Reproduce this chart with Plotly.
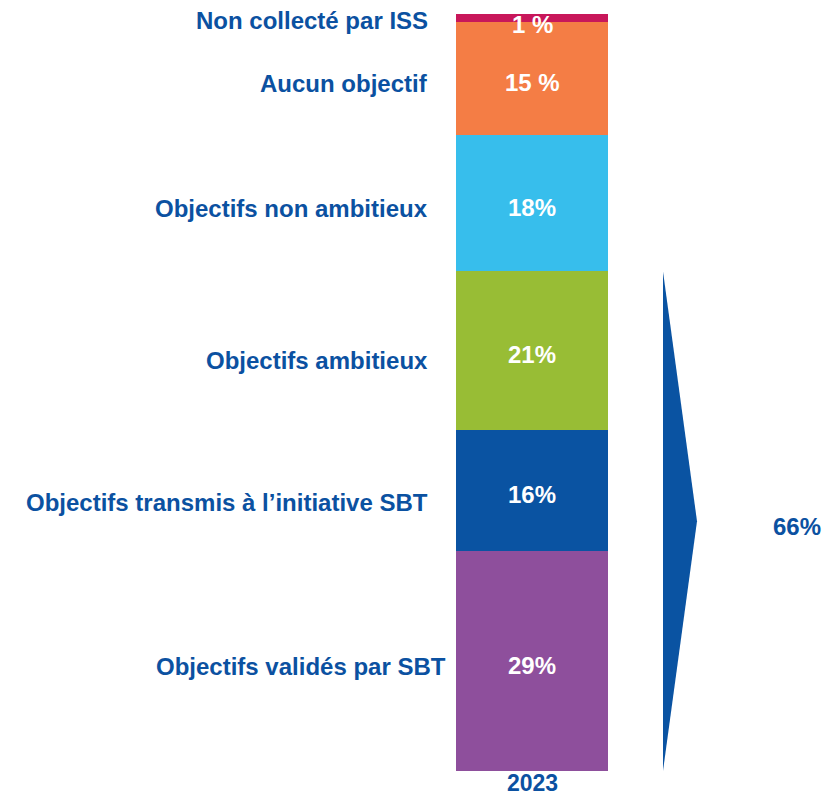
import plotly.graph_objects as go

categories = ["Objectifs validés par SBT", "Objectifs transmis à l’initiative SBT",
              "Objectifs ambitieux", "Objectifs non ambitieux", "Aucun objectif",
              "Non collecté par ISS"]
values = [29, 16, 21, 18, 15, 1]
value_labels = ["29%", "16%", "21%", "18%", "15 %", "1 %"]
colors = ["#8E4F9C", "#0A53A2", "#98BD35", "#37BEEC", "#F47D45", "#C8175A"]
year = "2023"
group_total_label = "66%"
group_size = 3  # bottom three segments

BLUE = "#0B51A1"
FONT = "Liberation Sans, Arial, sans-serif"
FS = 24
BAR_X = 532
BAR_W = 152

fig = go.Figure()
for cat, v, c in zip(categories, values, colors):
    fig.add_trace(go.Bar(x=[BAR_X], y=[v], width=BAR_W, name=cat,
                         marker=dict(color=c, line=dict(width=0)),
                         hoverinfo="name+y"))

label_x = {categories[0]: 448}
label_shift = {categories[2]: -10, categories[1]: -12, categories[5]: -3}
value_shift = {categories[5]: -7}
annotations = []
cum = 0
for cat, v, lab in zip(categories, values, value_labels):
    mid = cum + v / 2
    cum += v
    annotations.append(dict(x=label_x.get(cat, 430), y=mid, text=f"<b>{cat}</b>",
                            xanchor="right", yanchor="middle", showarrow=False,
                            yshift=label_shift.get(cat, -5),
                            font=dict(family=FONT, size=FS, color=BLUE)))
    annotations.append(dict(x=BAR_X, y=mid, text=f"<b>{lab}</b>",
                            xanchor="center", yanchor="middle", showarrow=False,
                            yshift=value_shift.get(cat, -4),
                            font=dict(family=FONT, size=FS, color="white")))

group_top = sum(values[:group_size])
annotations.append(dict(x=797, y=group_top / 2, text=f"<b>{group_total_label}</b>",
                        xanchor="center", yanchor="middle", showarrow=False, yshift=-5,
                        font=dict(family=FONT, size=FS, color=BLUE)))

# category (year) label under the bar
annotations.append(dict(x=BAR_X, y=0, text=f"<b>{year}</b>",
                        xanchor="center", yanchor="middle", showarrow=False, yshift=-12,
                        borderpad=0,
                        font=dict(family=FONT, size=23, color=BLUE)))

fig.add_shape(type="path",
              path=f"M 663 0 L 663 {group_top} L 697 {group_top/2} Z",
              xref="x", yref="y", fillcolor="#0A53A2", line=dict(width=0))

fig.update_layout(
    barmode="stack", width=824, height=797,
    margin=dict(l=0, r=0, t=0, b=26),
    paper_bgcolor="white", plot_bgcolor="white",
    showlegend=False, annotations=annotations,
    xaxis=dict(range=[0, 824], showticklabels=False,
               showgrid=False, zeroline=False, showline=False, ticks="",
               automargin=False, fixedrange=True),
    yaxis=dict(range=[0, 101.85], visible=False, fixedrange=True, automargin=False),
)

fig.write_html("out.html", config={"displayModeBar": False},
               post_script="document.body.style.margin='0';")
